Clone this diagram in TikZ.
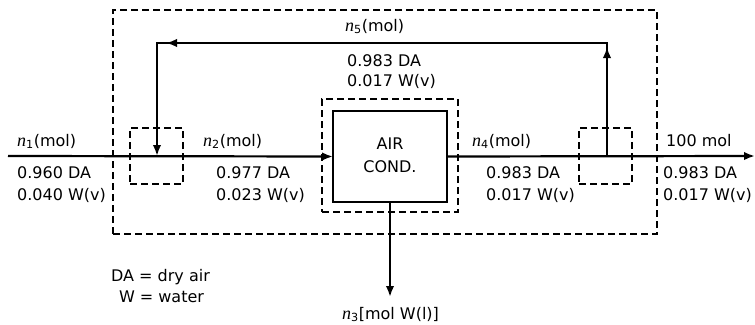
\documentclass[tikz,border=0pt]{standalone}
\usepackage{fontspec}
\setmainfont{DejaVu Sans}
\newfontfamily\nfont{Liberation Serif}
\newcommand\flown[1]{{\nfont\itshape\fontsize{18}{20}\selectfont n}\textsubscript{#1}}
\usetikzlibrary{arrows.meta}

\begin{document}
\begin{tikzpicture}[x=1pt,y=-1pt,
  flow/.style={line width=2.2pt},
  tip/.style={-{Latex[length=11pt,width=8.5pt]}},
  dsh/.style={draw,line width=1.1pt,dash pattern=on 7pt off 4pt,inner sep=0pt,outer sep=0pt},
  unit/.style={draw,line width=1.3pt,inner sep=0pt,outer sep=0pt,minimum width=114pt,minimum height=91pt},
  lbl/.style={anchor=base west,inner sep=0pt,font=\fontsize{16}{20}\selectfont},
  clbl/.style={anchor=base,inner sep=0pt,font=\fontsize{16}{20}\selectfont},
]
\useasboundingbox (0,0) rectangle (755,324);

% boxes
\node[dsh,minimum width=544pt,minimum height=224pt] (sys) at (385,122) {};
\node[dsh,minimum width=53pt,minimum height=56pt] (mixbox) at (156.5,156) {};
\node[dsh,minimum width=53pt,minimum height=56pt] (splitbox) at (605.5,156) {};
\node[dsh,minimum width=136pt,minimum height=113pt] (acbox) at (390,155.5) {};
\node[unit] (ac) at (390,156.5) {};
\node[clbl] (air) at (390,149) {AIR};
\node[clbl] (cond) at (390,172) {COND.};

% points
\coordinate (start) at (8,156);
\coordinate (M) at (157,156);
\coordinate (S) at (607,156);
\coordinate (end) at (755,156);
\coordinate (R1) at (607,43);
\coordinate (R2) at (157,43);
\coordinate (bot) at (390,297);

% flows
\draw[flow,tip] (start) -- (ac.west);
\draw[flow,tip] (ac.east) -- (end);
\draw[flow,tip] (ac.south) -- (bot);
\draw[flow,tip] (S) -- (R1) -- (R2) -- (M);
\draw[flow,tip] (S) -- ([yshift=-4pt]R1);
\draw[flow,tip] (R1) -- ([xshift=9pt]R2);

% labels
\node[lbl] (l1) at (17,146) {\flown{1}(mol)};
\node[lbl] (l1a) at (17,178) {0.960 DA};
\node[lbl] (l1b) at (17,200) {0.040 W(v)};
\node[lbl] (l2) at (203,146) {\flown{2}(mol)};
\node[lbl] (l2a) at (216,178) {0.977 DA};
\node[lbl] (l2b) at (216,200) {0.023 W(v)};
\node[lbl] (l4) at (472,146) {\flown{4}(mol)};
\node[lbl] (l4a) at (486,178) {0.983 DA};
\node[lbl] (l4b) at (486,200) {0.017 W(v)};
\node[lbl] (lp) at (666,146) {100 mol};
\node[lbl] (lpa) at (663,178) {0.983 DA};
\node[lbl] (lpb) at (663,200) {0.017 W(v)};
\node[lbl] (l5) at (345,31) {\flown{5}(mol)};
\node[lbl] (l5a) at (347,66) {0.983 DA};
\node[lbl] (l5b) at (347,86) {0.017 W(v)};
\node[clbl] (leg1) at (160.5,281) {DA = dry air};
\node[clbl] (leg2) at (161.5,302) {W = water};
\node[lbl] (l3) at (342,319) {\flown{3}[mol W(l)]};
\end{tikzpicture}
\end{document}
